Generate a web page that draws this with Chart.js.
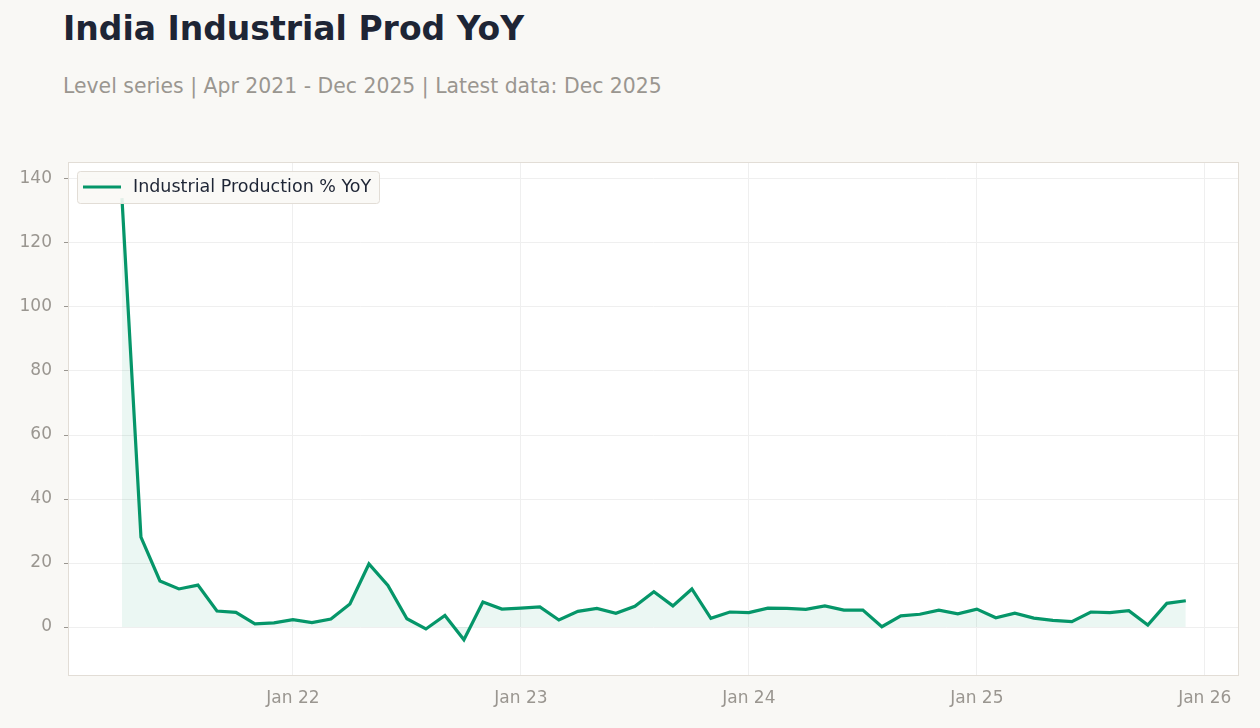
<!DOCTYPE html>
<html>
<head>
<meta charset="utf-8">
<script src="https://cdn.jsdelivr.net/npm/chart.js@4.4.1/dist/chart.umd.min.js"></script>
<style>
  html, body { margin: 0; padding: 0; background: #f9f8f5; }
  body { width: 1260px; height: 728px; position: relative; overflow: hidden; font-family: "DejaVu Sans", sans-serif; }
  #title { position: absolute; left: 63px; top: 9px; font-size: 33px; font-weight: bold; color: #1e2535; }
  #subtitle { position: absolute; left: 63px; top: 74px; font-size: 20.4px; color: #9a9690; }
  #wrap { position: absolute; left: 0; top: 0; width: 1260px; height: 728px; }
</style>
</head>
<body>
<div id="title">India Industrial Prod YoY</div>
<div id="subtitle">Level series | Apr 2021 - Dec 2025 | Latest data: Dec 2025</div>
<div id="wrap"><canvas id="graph"></canvas></div>
<script>
// monthly, Apr 2021 .. Dec 2025
const months = [
  'Apr 21','May 21','Jun 21','Jul 21','Aug 21','Sep 21','Oct 21','Nov 21','Dec 21',
  'Jan 22','Feb 22','Mar 22','Apr 22','May 22','Jun 22','Jul 22','Aug 22','Sep 22','Oct 22','Nov 22','Dec 22',
  'Jan 23','Feb 23','Mar 23','Apr 23','May 23','Jun 23','Jul 23','Aug 23','Sep 23','Oct 23','Nov 23','Dec 23',
  'Jan 24','Feb 24','Mar 24','Apr 24','May 24','Jun 24','Jul 24','Aug 24','Sep 24','Oct 24','Nov 24','Dec 24',
  'Jan 25','Feb 25','Mar 25','Apr 25','May 25','Jun 25','Jul 25','Aug 25','Sep 25','Oct 25','Nov 25','Dec 25'
];
const ipYoY = [
  134.0, 28.1, 14.4, 11.9, 13.1, 5.0, 4.6, 1.0, 1.3,
  2.3, 1.4, 2.5, 7.2, 19.7, 13.0, 2.6, -0.6, 3.6, -4.0, 7.8, 5.6,
  5.9, 6.3, 2.2, 4.9, 5.8, 4.3, 6.5, 11.0, 6.6, 11.9, 2.7, 4.7,
  4.5, 5.9, 5.8, 5.5, 6.6, 5.3, 5.3, 0.1, 3.5, 4.0, 5.3, 4.1,
  5.6, 2.9, 4.3, 2.8, 2.1, 1.7, 4.7, 4.5, 5.1, 0.6, 7.4, 8.2
];
const yTicks = [0, 20, 40, 60, 80, 100, 120, 140];
const xTickIdx = [9, 21, 33, 45, 57];
const xTickLabels = ['Jan 22', 'Jan 23', 'Jan 24', 'Jan 25', 'Jan 26'];

const seriesLabel = 'Industrial Production % YoY';
const lineColor = '#059669';

const plotBg = {
  id: 'plotBg',
  beforeDraw(c) {
    const a = c.chartArea, g = c.ctx;
    g.save();
    g.fillStyle = '#ffffff';
    g.fillRect(a.left, a.top, a.right - a.left, a.bottom - a.top);
    g.restore();
  },
  afterDraw(c) {
    const a = c.chartArea, g = c.ctx;
    g.save();
    g.strokeStyle = '#e2ddd6';
    g.lineWidth = 1;
    g.strokeRect(a.left + 0.5, a.top + 0.5, a.right - a.left - 1, a.bottom - a.top - 1);
    // legend box
    const x = a.left + 9, y = a.top + 9, w = 302, h = 32;
    g.fillStyle = 'rgba(249,248,245,0.9)';
    g.strokeStyle = '#e2ddd6';
    g.beginPath();
    g.roundRect(x + 0.5, y + 0.5, w, h, 3);
    g.fill();
    g.stroke();
    g.strokeStyle = lineColor;
    g.lineWidth = 3;
    g.beginPath();
    g.moveTo(x + 6, y + 16);
    g.lineTo(x + 44, y + 16);
    g.stroke();
    g.fillStyle = '#1e2535';
    g.font = '17.5px "DejaVu Sans"';
    g.textBaseline = 'middle';
    g.fillText(seriesLabel, x + 56, y + 16.5);
    g.restore();
  }
};

const ctx = document.getElementById('graph').getContext('2d');
const chart = new Chart(ctx, {
  type: 'line',
  data: {
    datasets: [{
      label: seriesLabel,
      data: ipYoY.map((v, i) => ({ x: i, y: v })),
      borderColor: lineColor,
      borderWidth: 3.2,
      backgroundColor: 'rgba(5,150,105,0.08)',
      fill: 'origin',
      pointRadius: 0,
      tension: 0
    }]
  },
  options: {
    responsive: true,
    maintainAspectRatio: false,
    animation: false,
    layout: { padding: { top: 162, right: 21, left: 0, bottom: 0 } },
    plugins: { legend: { display: false }, tooltip: { enabled: false } },
    scales: {
      x: {
        type: 'linear',
        min: -2.84,
        max: 58.8,
        afterBuildTicks: s => { s.ticks = xTickIdx.map(v => ({ value: v })); },
        afterFit: s => { s.height = 52; },
        ticks: {
          callback: (v) => xTickLabels[xTickIdx.indexOf(v)],
          color: '#9a9690',
          font: { family: 'DejaVu Sans', size: 17 },
          padding: 12,
          maxRotation: 0
        },
        grid: { color: '#efefef', drawTicks: false },
        border: { display: false }
      },
      y: {
        min: -15.3,
        max: 145.3,
        afterBuildTicks: s => { s.ticks = yTicks.map(v => ({ value: v })); },
        afterFit: s => { s.width = 68; },
        ticks: {
          color: '#9a9690',
          font: { family: 'DejaVu Sans', size: 17 },
          padding: 12
        },
        grid: { color: '#efefef', drawTicks: true, tickLength: 4, tickColor: '#9a9690' },
        border: { display: false }
      }
    }
  },
  plugins: [plotBg]
});
</script>
</body>
</html>
